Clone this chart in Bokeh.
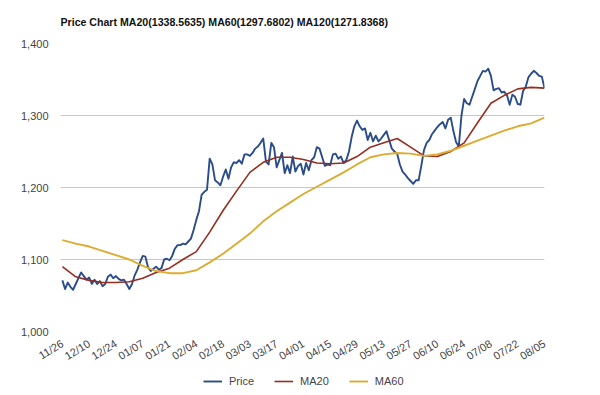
from bokeh.plotting import figure
from bokeh.layouts import column
from bokeh.models import Range1d, FixedTicker, NumeralTickFormatter, Legend, LegendItem
from bokeh.embed import file_html
from bokeh.resources import INLINE

title_text = "Price Chart MA20(1338.5635) MA60(1297.6802) MA120(1271.8368)"

tick_labels = ["11/26", "12/10", "12/24", "01/07", "01/21", "02/04", "02/18", "03/03",
               "03/17", "04/01", "04/15", "04/29", "05/13", "05/27", "06/10", "06/24",
               "07/08", "07/22", "08/05"]
tick_positions = [i * 10 for i in range(len(tick_labels))]

price = [
    1071, 1059, 1068, 1062, 1058, 1066, 1074, 1082, 1077, 1072,
    1075, 1066, 1072, 1066, 1070, 1063, 1066, 1076, 1079, 1074,
    1077, 1073, 1071, 1072, 1066, 1059, 1066, 1078, 1086, 1096,
    1105, 1104, 1089, 1084, 1087, 1090, 1086, 1088, 1100, 1101,
    1099, 1105, 1115, 1120, 1120, 1122, 1121, 1125, 1129, 1141,
    1155, 1167, 1190, 1194, 1197, 1240, 1232, 1210, 1207, 1203,
    1215, 1225, 1212, 1228, 1235, 1234, 1238, 1233, 1246, 1246,
    1244, 1248, 1254, 1257, 1262, 1268, 1236, 1232, 1262, 1256,
    1228, 1238, 1248, 1220, 1231, 1220, 1243, 1222, 1230, 1233,
    1218, 1234, 1224, 1238, 1242, 1256, 1254, 1242, 1230, 1232,
    1231, 1246, 1247, 1240, 1243, 1234, 1238, 1250, 1270, 1285,
    1293, 1285, 1280, 1282, 1266, 1276, 1264, 1272, 1264, 1268,
    1273, 1278, 1266, 1254, 1250, 1247, 1232, 1222, 1218, 1213,
    1209, 1205, 1210, 1210, 1230, 1252, 1262, 1266, 1274, 1279,
    1284, 1288, 1291, 1282, 1294, 1297, 1278, 1263, 1257, 1300,
    1323, 1317, 1315, 1326, 1337, 1348, 1355, 1362, 1361, 1365,
    1355, 1335, 1337, 1338, 1332, 1333, 1328, 1315, 1329, 1326,
    1316, 1315, 1334, 1340, 1353, 1358, 1362, 1359, 1355, 1354,
    1338,
]
price_x = list(range(len(price)))

ma_x = [i * 5 for i in range(37)]
ma20 = [1090, 1076, 1071, 1068, 1068, 1069, 1074, 1082, 1088, 1100,
        1111, 1138, 1168, 1195, 1221, 1235, 1242, 1242, 1239, 1234,
        1233, 1234, 1243, 1256, 1262, 1268, 1256, 1244, 1243, 1250,
        1262, 1290, 1317, 1328, 1337, 1339, 1338]
ma60 = [1127, 1122, 1118, 1112, 1106, 1100, 1091, 1084, 1081, 1081,
        1085, 1096, 1108, 1122, 1136, 1153, 1167, 1179, 1191, 1201,
        1211, 1221, 1232, 1242, 1246, 1248, 1247, 1244, 1246, 1251,
        1258, 1265, 1272, 1279, 1285, 1289, 1297]

series_names = ["Price", "MA20", "MA60"]
series_colors = ["#2B4C8A", "#962D1E", "#DCAC30"]
series_widths = [1.9, 1.6, 1.9]

FONT = "Liberation Sans"
TXT = "#444444"

p = figure(width=600, height=370, output_backend="svg", toolbar_location=None,
           x_range=Range1d(-0.7, 180), y_range=Range1d(1000, 1400),
           min_border_left=60, min_border_right=56, min_border_top=43, min_border_bottom=35)
p.outline_line_color = None
p.background_fill_color = "white"
p.border_fill_color = "white"

p.title.text = title_text
p.title.text_font = FONT
p.title.text_font_size = "10.6px"
p.title.text_font_style = "bold"
p.title.text_color = "#111111"
p.title.align = "left"
p.title.vertical_align = "top"
p.title.offset = 0
p.title.standoff = 28

r_price = p.line(price_x, price, line_color=series_colors[0], line_width=series_widths[0], line_join="round")
r_ma20 = p.line(ma_x, ma20, line_color=series_colors[1], line_width=series_widths[1], line_join="round")
r_ma60 = p.line(ma_x, ma60, line_color=series_colors[2], line_width=series_widths[2], line_join="round")

p.xgrid.grid_line_color = None
p.ygrid.grid_line_color = "#C8C8C8"
p.ygrid.grid_line_width = 1
p.yaxis.ticker = FixedTicker(ticks=[1000, 1100, 1200, 1300, 1400])
p.yaxis.formatter = NumeralTickFormatter(format="0,0")
p.xaxis.ticker = FixedTicker(ticks=tick_positions)
p.xaxis.major_label_overrides = {t: l for t, l in zip(tick_positions, tick_labels)}
p.xaxis.major_label_orientation = 0.55

for ax in (p.xaxis[0], p.yaxis[0]):
    ax.axis_line_color = None
    ax.major_tick_line_color = None
    ax.minor_tick_line_color = None
    ax.major_tick_out = 0
    ax.major_tick_in = 0
    ax.major_label_text_font = FONT
    ax.major_label_text_font_size = "11px"
    ax.major_label_text_color = TXT
p.yaxis.major_label_standoff = 12
p.xaxis.major_label_standoff = 11

# legend in its own strip below the chart; the legend renderers reuse the
# series data but the strip's ranges keep them out of view
lg = figure(width=600, height=25, output_backend="svg", toolbar_location=None,
            x_range=Range1d(-10, -9), y_range=Range1d(0, 1),
            x_axis_location=None, y_axis_location=None,
            min_border_left=0, min_border_right=0, min_border_top=0, min_border_bottom=0)
lg.outline_line_color = None
lg.xgrid.grid_line_color = None
lg.ygrid.grid_line_color = None
items = []
for name, col, w, xs, ys in zip(series_names, series_colors, series_widths,
                                [price_x, ma_x, ma_x], [price, ma20, ma60]):
    r = lg.line(xs, ys, line_color=col, line_width=w)
    items.append(LegendItem(label=name, renderers=[r]))
legend = Legend(items=items, orientation="horizontal", location=(143, 7),
                label_text_font=FONT, label_text_font_size="11px", label_text_color=TXT,
                glyph_width=19, glyph_height=14, label_height=14, label_standoff=7, spacing=20,
                padding=0, margin=0, border_line_color=None, background_fill_alpha=0)
lg.add_layout(legend, "center")

layout = column(p, lg, spacing=0)
open("out.html", "w").write(file_html(layout, INLINE))
